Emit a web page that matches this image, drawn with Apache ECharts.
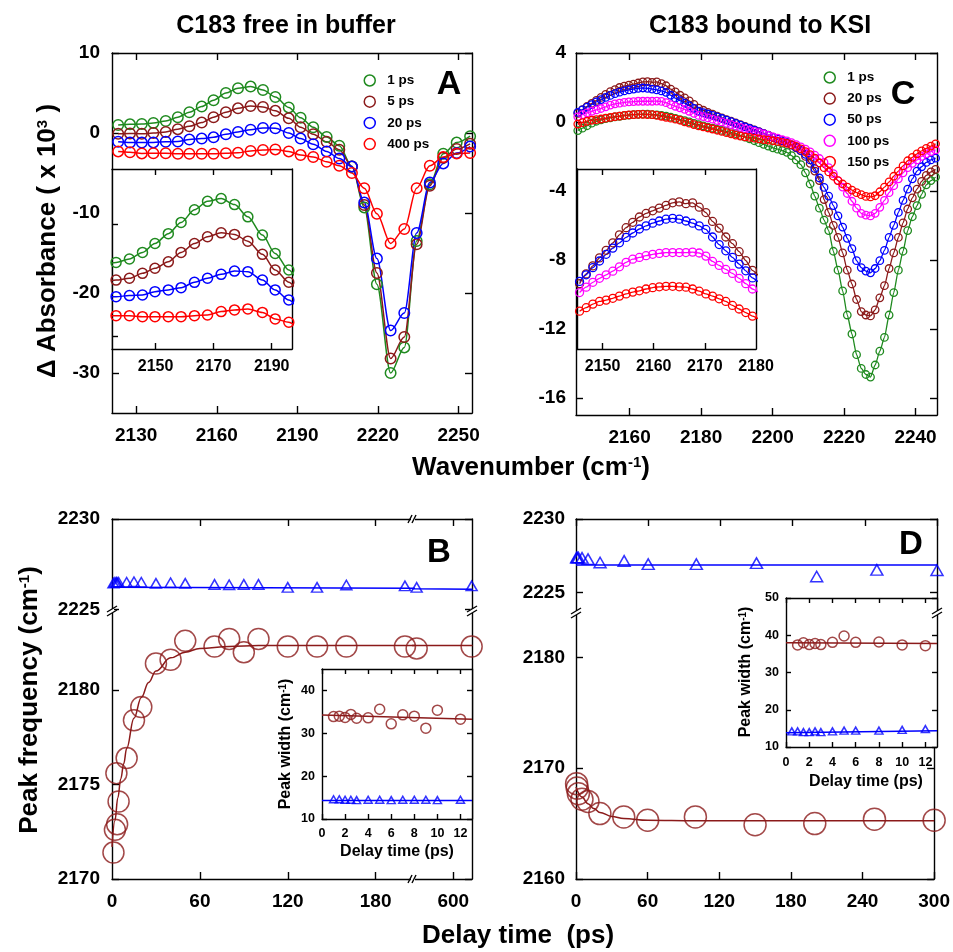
<!DOCTYPE html>
<html><head><meta charset="utf-8">
<script src="https://cdn.jsdelivr.net/npm/echarts@6/dist/echarts.min.js"></script>
<style>html,body{margin:0;padding:0;background:#fff}#c{width:953px;height:952px}</style>
</head><body><div id="c"></div><script>
// ================= DATA =================
// Panel A : C183 free in buffer (wavenumber, cm-1 ; dAbs x 1e3)
const wnA = [2123.3,2127.7,2132.1,2136.4,2141.0,2145.5,2149.8,2154.4,2158.8,2163.4,2167.9,2172.6,2177.2,2181.8,2186.8,2191.2,2195.9,2200.9,2205.6,2210.3,2214.9,2219.6,2224.7,2229.8,2234.4,2239.3,2244.3,2249.3,2254.3];
const A_1ps   = [1.0,1.08,1.12,1.26,1.5,1.97,2.6,3.3,4.1,5.0,5.6,5.8,5.37,4.5,3.2,1.9,0.72,-0.5,-1.6,-4.2,-9.3,-18.9,-30.0,-26.8,-13.5,-6.4,-2.6,-1.2,-0.4];
const A_5ps   = [-0.1,-0.05,-0.1,0.0,0.13,0.48,0.84,1.3,1.97,2.6,3.08,3.36,3.25,2.77,1.83,0.72,-0.15,-1.1,-2.1,-4.2,-9.0,-17.5,-28.2,-25.5,-13.9,-6.6,-3.1,-2.0,-1.35];
const A_20ps  = [-1.1,-1.2,-1.2,-1.18,-1.1,-1.06,-0.82,-0.7,-0.54,-0.16,0.13,0.41,0.64,0.6,0.0,-0.7,-1.41,-2.3,-3.2,-4.2,-8.7,-15.7,-24.7,-22.5,-12.5,-6.2,-3.8,-2.5,-1.7];
const A_400ps = [-2.3,-2.4,-2.55,-2.53,-2.53,-2.6,-2.6,-2.6,-2.6,-2.53,-2.48,-2.24,-2.12,-2.05,-2.3,-2.76,-3.0,-3.6,-4.1,-5.0,-6.9,-10.1,-13.8,-12.0,-6.9,-4.1,-3.0,-2.55,-2.5];

// Panel C : C183 bound to KSI
const wnC = [2145.5,2146.8,2148.1,2149.4,2150.7,2152.0,2153.3,2154.6,2155.9,2157.2,2158.5,2159.8,2161.1,2162.4,2163.7,2165.0,2166.3,2167.6,2168.9,2170.2,2171.5,2172.8,2174.1,2175.4,2176.7,2178.0,2179.3,2180.6,2181.9,2183.2,2184.5,2185.8,2187.1,2188.4,2189.7,2191.0,2192.3,2193.6,2194.9,2196.2,2197.5,2198.8,2200.1,2201.4,2202.7,2204.0,2205.3,2206.6,2207.9,2209.2,2210.5,2211.8,2213.1,2214.4,2215.7,2217.0,2218.3,2219.6,2220.9,2222.2,2223.5,2224.8,2226.1,2227.4,2228.7,2230.0,2231.3,2232.6,2233.9,2235.2,2236.5,2237.8,2239.1,2240.4,2241.7,2243.0,2244.3,2245.6];
const C_1ps = [-0.50,-0.36,-0.22,-0.07,0.04,0.12,0.19,0.24,0.29,0.33,0.37,0.40,0.42,0.44,0.45,0.45,0.43,0.41,0.38,0.34,0.28,0.21,0.14,0.08,0.00,-0.08,-0.16,-0.23,-0.30,-0.36,-0.43,-0.49,-0.55,-0.61,-0.68,-0.78,-0.88,-0.98,-1.09,-1.20,-1.30,-1.40,-1.50,-1.58,-1.66,-1.76,-1.95,-2.20,-2.48,-2.95,-3.60,-4.30,-5.00,-5.70,-6.30,-7.50,-8.60,-9.80,-11.20,-12.30,-13.50,-14.30,-14.65,-14.80,-14.10,-13.30,-12.50,-11.20,-9.90,-8.60,-7.50,-6.30,-5.50,-4.85,-4.20,-3.65,-3.40,-3.20];
const C_20ps = [0.50,0.72,0.90,1.08,1.25,1.42,1.60,1.76,1.88,2.00,2.08,2.14,2.20,2.26,2.32,2.34,2.30,2.32,2.22,2.10,1.90,1.75,1.55,1.40,1.22,1.02,0.80,0.68,0.56,0.45,0.34,0.24,0.14,0.04,-0.06,-0.16,-0.26,-0.36,-0.46,-0.56,-0.66,-0.76,-0.88,-0.98,-1.08,-1.20,-1.35,-1.50,-1.68,-2.00,-2.40,-2.85,-3.40,-4.50,-5.25,-6.00,-6.70,-7.60,-8.60,-9.40,-10.30,-11.00,-11.20,-11.25,-10.90,-10.20,-9.50,-8.50,-7.60,-6.70,-5.85,-5.05,-4.40,-3.90,-3.45,-3.10,-2.90,-2.75];
const C_50ps = [0.55,0.70,0.86,1.01,1.16,1.30,1.42,1.54,1.64,1.73,1.80,1.86,1.91,1.95,1.97,1.95,1.91,1.86,1.80,1.72,1.55,1.38,1.24,1.09,0.94,0.79,0.63,0.54,0.46,0.38,0.29,0.20,0.11,0.02,-0.08,-0.18,-0.28,-0.38,-0.48,-0.58,-0.68,-0.78,-0.90,-1.00,-1.10,-1.20,-1.33,-1.48,-1.65,-1.88,-2.20,-2.70,-3.25,-3.80,-4.30,-4.85,-5.45,-6.10,-6.75,-7.35,-8.05,-8.45,-8.65,-8.75,-8.50,-8.05,-7.45,-6.70,-6.00,-5.25,-4.55,-3.90,-3.30,-2.85,-2.60,-2.35,-2.20,-2.10];
const C_100ps = [0.30,0.42,0.53,0.62,0.70,0.78,0.88,0.98,1.05,1.09,1.13,1.16,1.18,1.20,1.20,1.20,1.20,1.21,1.19,1.12,1.00,0.91,0.82,0.73,0.62,0.50,0.38,0.31,0.24,0.16,0.08,0.00,-0.08,-0.16,-0.24,-0.32,-0.40,-0.47,-0.55,-0.62,-0.70,-0.78,-0.86,-0.94,-1.02,-1.10,-1.20,-1.32,-1.45,-1.58,-1.74,-1.92,-2.12,-2.35,-2.65,-3.00,-3.40,-3.78,-4.15,-4.60,-5.00,-5.30,-5.40,-5.45,-5.30,-4.95,-4.55,-4.10,-3.70,-3.30,-2.95,-2.65,-2.40,-2.20,-2.00,-1.85,-1.72,-1.62];
const C_150ps = [-0.12,-0.04,0.04,0.10,0.13,0.17,0.22,0.27,0.31,0.34,0.38,0.41,0.43,0.44,0.44,0.43,0.42,0.38,0.33,0.27,0.22,0.16,0.10,0.01,-0.07,-0.15,-0.23,-0.29,-0.35,-0.41,-0.48,-0.55,-0.62,-0.69,-0.76,-0.82,-0.86,-0.90,-0.94,-0.98,-1.02,-1.06,-1.09,-1.13,-1.18,-1.24,-1.32,-1.42,-1.56,-1.72,-1.90,-2.10,-2.38,-2.65,-2.90,-3.15,-3.40,-3.60,-3.78,-3.95,-4.10,-4.22,-4.32,-4.35,-4.28,-4.05,-3.78,-3.48,-3.15,-2.85,-2.55,-2.25,-2.05,-1.85,-1.68,-1.53,-1.40,-1.27];

// Panel B : peak frequency vs delay time (free)
const tB      = [1,2,3,3.5,4.5,10,15,20,30,40,50,70,80,90,100,120,140,160,200,400,700];
const pkLowB  = [2171.4,2172.6,2175.6,2172.9,2174.1,2176.4,2178.4,2179.1,2181.4,2181.6,2182.6,2182.3,2182.7,2182.0,2182.7,2182.3,2182.3,2182.3,2182.3,2182.2,2182.3];
const pkHighB = [2226.45,2226.5,2226.5,2226.48,2226.5,2226.5,2226.53,2226.5,2226.44,2226.47,2226.44,2226.38,2226.36,2226.38,2226.38,2226.22,2226.22,2226.35,2226.3,2226.22,2226.3];
const fitLowBt  = [0,2,4,6,8,10,15,20,25,30,40,50,60,80,100,205,380,705];
const fitLowBf  = [2171.7,2173.1,2174.3,2175.3,2176.1,2176.9,2178.5,2179.6,2180.4,2181.0,2181.7,2182.0,2182.2,2182.3,2182.35,2182.35,2182.35,2182.35];
const fitHighBt = [0,205,380,705];
const fitHighBf = [2226.22,2226.17,2226.14,2226.11];
// Panel B inset : peak width
const tBi      = [1,1.5,2,2.5,3,4,5,6,7,8,9,10,12];
const wLowBi   = [33.9,34.0,33.7,34.4,33.5,33.6,35.6,32.2,34.3,34.0,31.2,35.4,33.3];
const wHighBi  = [14.6,14.6,14.5,14.5,14.4,14.5,14.5,14.4,14.5,14.5,14.5,14.4,14.5];
const fitBiT   = [0,13];
const fitLowBi = [34.25,33.3];
const fitHighBi= [14.3,14.3];

// Panel D : peak frequency vs delay time (bound)
const tD      = [0.5,1,2,5,10,20,40,60,100,150,200,250,300];
const pkLowD  = [2168.6,2168.2,2167.7,2167.2,2167.0,2165.9,2165.6,2165.3,2165.6,2164.9,2165.0,2165.4,2165.3];
const pkHighD = [2227.38,2227.38,2227.38,2227.36,2227.27,2227.04,2227.15,2226.93,2226.93,2227.0,2226.09,2226.54,2226.52];
const fitLowDt = [0,5,10,15,20,30,40,60,100,300];
const fitLowDf = [2168.3,2167.4,2166.8,2166.35,2166.0,2165.65,2165.45,2165.3,2165.25,2165.25];
const fitHighDt = [0,300];
const fitHighDf = [2226.87,2226.87];
// Panel D inset
const tDiLow   = [1,1.5,2,2.5,3,4,5,6,8,10,12];
const wLowDi   = [37.4,38.0,37.5,37.8,37.5,38.1,39.8,38.1,38.2,37.4,37.2];
const tDiHigh  = [0.5,1,1.5,2,2.5,3,4,5,6,8,10,12];
const wHighDi  = [14.2,14.2,14.0,14.0,14.2,14.0,14.2,14.4,14.4,14.4,14.6,14.8];
const fitDiT   = [0,13];
const fitLowDi = [38.0,37.8];
const fitHighDi= [13.8,14.35];

// Tick labels
const tkA_x = [2130,2160,2190,2220,2250], tkA_y = [-30,-20,-10,0,10];
const tkAi_x = [2150,2170,2190], tkAi_y = [-4,4];
const tkC_x = [2160,2180,2200,2220,2240], tkC_y = [-16,-12,-8,-4,0,4];
const tkCi_x = [2150,2160,2170], lbCi_x = [2150,2160,2170,2180];
const tkB_x = [0,60,120,180], tkB_xR = [600], tkB_yHi = [2225,2230], tkB_yLo = [2170,2175,2180];
const tkD_x = [0,60,120,180,240,300], tkD_yHi = [2225,2230], tkD_yLo = [2160,2170,2180];
const tkIn_x = [0,2,4,6,8,10,12], tkBi_y = [10,20,30,40], tkDi_y = [10,20,30,40,50];

// ================= BUILD =================
const F = '"Liberation Sans", Arial, Helvetica, sans-serif';
const GREEN='#1f8a1f', BROWN='#8b1a1a', BLUE='#0000ff', RED='#ff0000', MAG='#ff00ff';
const grids=[], xAxes=[], yAxes=[], series=[], legends=[], graphics=[];

function G(l,t,w,h,inset){
  grids.push({left:l, top:t, width:w, height:h, containLabel:false, show:!!inset,
    backgroundColor:'#ffffff', borderColor:'rgba(0,0,0,0)', borderWidth:0, z: inset?5:0});
  return grids.length-1;
}
function AX(list, gi, pos, min, max, o){
  o = o||{};
  list.push({
    type:'value', gridIndex:gi, position:pos, min:min, max:max, z:o.z||0,
    axisLine:{show:true, onZero:false, lineStyle:{color:'#000', width:1.4}},
    axisTick: o.ticks ? {show:true, inside:true, length:o.tl||7, customValues:o.ticks, lineStyle:{color:'#000', width:1.4}} : {show:false},
    axisLabel: o.labels ? {show:true, customValues:o.labels, margin:o.lm||11, color:'#000', fontFamily:F, fontWeight:'bold', fontSize:o.fs||19,
      formatter: v => String(Math.round(v*1000)/1000)} : {show:false},
    splitLine:{show:false}, axisPointer:{show:false}
  });
  return list.length-1;
}
function pairs(xs, ys){ return xs.map((x,i)=>[x, ys[i]]); }
function lineS(xi, yi, xs, ys, color, o){
  o=o||{};
  series.push({type:'line', name:o.name, xAxisIndex:xi, yAxisIndex:yi, data:pairs(xs,ys),
    smooth: o.smooth===undefined?0.3:o.smooth, smoothMonotone:'x',
    symbol: o.noSym?'none':'circle', symbolSize:o.size||10, showSymbol:!o.noSym,
    lineStyle:{color:color, width:o.lw||1.5},
    itemStyle:{color:'rgba(0,0,0,0)', borderColor:color, borderWidth:o.bw||1.5},
    z:o.z||2, silent:true, clip:true, animation:false, emphasis:{disabled:true}});
}
function scatS(xi, yi, xs, ys, color, o){
  o=o||{};
  series.push({type:'scatter', xAxisIndex:xi, yAxisIndex:yi, data:pairs(xs,ys),
    symbol:o.symbol||'circle', symbolSize:o.size||10,
    itemStyle:{color:'rgba(0,0,0,0)', borderColor:color, borderWidth:o.bw||1.5},
    z:o.z||3, silent:true, clip:true, animation:false, emphasis:{disabled:true}});
}
function legendItem(name, color){ return {name:name, itemStyle:{color:'rgba(0,0,0,0)', borderColor:color, borderWidth:1.5}}; }

// ---- Panel A main ----
let g = G(112,53,360,360);
let xa = AX(xAxes,g,'bottom',2121,2255,{ticks:tkA_x, labels:tkA_x, lm:13});
AX(xAxes,g,'top',2121,2255,{ticks:tkA_x});
let ya = AX(yAxes,g,'left',-35,10,{ticks:tkA_y, labels:tkA_y, lm:12});
AX(yAxes,g,'right',-35,10,{ticks:tkA_y});
const Aset = [['1 ps',A_1ps,GREEN],['5 ps',A_5ps,BROWN],['20 ps',A_20ps,BLUE],['400 ps',A_400ps,RED]];
Aset.forEach(s => lineS(xa, ya, wnA, s[1], s[2], {name:'A|'+s[0], size:10.5}));
// ---- Panel A inset ----
g = G(112,169,180,180,true);
xa = AX(xAxes,g,'bottom',2135,2197,{ticks:tkAi_x, labels:tkAi_x, fs:16, lm:10, tl:6, z:6});
AX(xAxes,g,'top',2135,2197,{ticks:tkAi_x, tl:6, z:6});
ya = AX(yAxes,g,'left',-4.9,7.9,{ticks:tkAi_y, tl:6, z:6});
AX(yAxes,g,'right',-4.9,7.9,{z:6});
Aset.forEach(s => lineS(xa, ya, wnA, s[1], s[2], {size:10, z:7}));

// ---- Panel C main ----
g = G(576,53,361,362);
xa = AX(xAxes,g,'bottom',2145,2246,{ticks:tkC_x, labels:tkC_x, lm:13});
AX(xAxes,g,'top',2145,2246,{ticks:tkC_x});
ya = AX(yAxes,g,'left',-17,4,{ticks:tkC_y, labels:tkC_y, lm:10});
AX(yAxes,g,'right',-17,4,{ticks:tkC_y});
const Cset = [['1 ps',C_1ps,GREEN],['20 ps',C_20ps,BROWN],['50 ps',C_50ps,BLUE],['100 ps',C_100ps,MAG],['150 ps',C_150ps,RED]];
Cset.forEach(s => lineS(xa, ya, wnC, s[1], s[2], {name:'C|'+s[0], size:7.5, bw:1.3, lw:1.3, smooth:0.2}));
// ---- Panel C inset ----
g = G(577,169,179,180,true);
xa = AX(xAxes,g,'bottom',2145,2180,{ticks:tkCi_x, labels:lbCi_x, fs:16, lm:10, tl:6, z:6});
AX(xAxes,g,'top',2145,2180,{ticks:tkCi_x, tl:6, z:6});
ya = AX(yAxes,g,'left',-0.97,3.08,{z:6});
AX(yAxes,g,'right',-0.97,3.08,{z:6});
Cset.slice(1).forEach(s => lineS(xa, ya, wnC, s[1], s[2], {size:8, bw:1.3, lw:1.3, smooth:0.2, z:7}));

// ---- Panel B (broken axes) ----
const gBUL = G(112,519,301,92), gBUR = G(413,519,59,92), gBLL = G(112,611,301,268), gBLR = G(413,611,59,268);
let xUL = AX(xAxes,gBUL,'top',0,205.5,{ticks:[60,120,180]});
let yUL = AX(yAxes,gBUL,'left',2224.91,2230,{ticks:tkB_yHi, labels:tkB_yHi, lm:12});
let xUR = AX(xAxes,gBUR,'top',380,702,{ticks:tkB_xR});
let yUR = AX(yAxes,gBUR,'right',2224.91,2230,{ticks:tkB_yHi});
let xLL = AX(xAxes,gBLL,'bottom',0,205.5,{ticks:[60,120,180], labels:tkB_x, lm:13});
let yLL = AX(yAxes,gBLL,'left',2170,2184.18,{ticks:tkB_yLo, labels:tkB_yLo, lm:12});
let xLR = AX(xAxes,gBLR,'bottom',380,702,{ticks:tkB_xR, labels:tkB_xR, lm:13});
let yLR = AX(yAxes,gBLR,'right',2170,2184.18,{ticks:tkB_yLo});
[[xUL,yUL],[xUR,yUR]].forEach(p=>{
  lineS(p[0],p[1],fitHighBt,fitHighBf,BLUE,{noSym:true, smooth:false, lw:1.5});
  scatS(p[0],p[1],tB,pkHighB,BLUE,{symbol:'triangle', size:[11,9.5], bw:1.5});
});
[[xLL,yLL],[xLR,yLR]].forEach(p=>{
  lineS(p[0],p[1],fitLowBt,fitLowBf,BROWN,{noSym:true, smooth:0.4, lw:1.5});
  scatS(p[0],p[1],tB,pkLowB,BROWN,{size:21, bw:1.5});
});
// B inset
g = G(322,669,150,150,true);
xa = AX(xAxes,g,'bottom',0,13,{ticks:tkIn_x, labels:tkIn_x, fs:12.5, lm:8, tl:5, z:6});
AX(xAxes,g,'top',0,13,{ticks:tkIn_x, tl:5, z:6});
ya = AX(yAxes,g,'left',10,45,{ticks:tkBi_y, labels:tkBi_y, fs:12.5, lm:7, tl:5, z:6});
AX(yAxes,g,'right',10,45,{ticks:tkBi_y, tl:5, z:6});
lineS(xa,ya,fitBiT,fitLowBi,BROWN,{noSym:true, smooth:false, z:7});
lineS(xa,ya,fitBiT,fitHighBi,BLUE,{noSym:true, smooth:false, z:7});
scatS(xa,ya,tBi,wLowBi,BROWN,{size:10, z:8});
scatS(xa,ya,tBi,wHighBi,BLUE,{symbol:'triangle', size:[8,7], z:8});

// ---- Panel D (broken y) ----
const gDU = G(576,519,361,94), gDL = G(576,613,361,266);
let xDU = AX(xAxes,gDU,'top',0,300,{ticks:tkD_x});
let yDU = AX(yAxes,gDU,'left',2223.61,2230,{ticks:tkD_yHi, labels:tkD_yHi, lm:11});
AX(yAxes,gDU,'right',2223.61,2230,{ticks:tkD_yHi});
let xDL = AX(xAxes,gDL,'bottom',0,300,{ticks:tkD_x, labels:tkD_x, lm:13});
let yDL = AX(yAxes,gDL,'left',2160,2184,{ticks:tkD_yLo, labels:tkD_yLo, lm:11});
AX(yAxes,gDL,'right',2160,2184,{ticks:tkD_yLo});
lineS(xDU,yDU,fitHighDt,fitHighDf,BLUE,{noSym:true, smooth:false});
scatS(xDU,yDU,tD,pkHighD,BLUE,{symbol:'triangle', size:[12,10.5]});
lineS(xDL,yDL,fitLowDt,fitLowDf,BROWN,{noSym:true, smooth:0.4});
scatS(xDL,yDL,tD,pkLowD,BROWN,{size:22});
// D inset
g = G(786,598,151,149,true);
xa = AX(xAxes,g,'bottom',0,13,{ticks:tkIn_x, labels:tkIn_x, fs:12.5, lm:9, tl:5, z:6});
AX(xAxes,g,'top',0,13,{ticks:tkIn_x, tl:5, z:6});
ya = AX(yAxes,g,'left',10,50,{ticks:tkDi_y, labels:tkDi_y, fs:12.5, lm:7, tl:5, z:6});
AX(yAxes,g,'right',10,50,{ticks:tkDi_y, tl:5, z:6});
lineS(xa,ya,fitDiT,fitLowDi,BROWN,{noSym:true, smooth:false, z:7});
lineS(xa,ya,fitDiT,fitHighDi,BLUE,{noSym:true, smooth:false, z:7});
scatS(xa,ya,tDiLow,wLowDi,BROWN,{size:10, z:8});
scatS(xa,ya,tDiHigh,wHighDi,BLUE,{symbol:'triangle', size:[8,7], z:8});

// ---- Legends ----
const legBase = {orient:'vertical', itemWidth:11, itemHeight:11, icon:'circle', selectedMode:false,
  formatter: n => n.split('|')[1],
  textStyle:{fontFamily:F, fontWeight:'bold', fontSize:13.5, color:'#000', lineHeight:11, padding:[0,0,0,7]}};
legends.push(Object.assign({}, legBase, {left:358.5, top:68.5, itemGap:7.2, data:Aset.map(s=>legendItem('A|'+s[0], s[2]))}));
legends.push(Object.assign({}, legBase, {left:818.5, top:65.5, itemGap:7.1, data:Cset.map(s=>legendItem('C|'+s[0], s[2]))}));

// ---- Texts ----
function T(x,y,text,size,o){
  o=o||{};
  const st = {text:text, fill:'#000', fontSize:size, fontWeight:'bold', fontFamily:F, align:'center', verticalAlign:'middle'};
  if (o.rich) st.rich = o.rich;
  graphics.push({type:'text', x:x, y:y, rotation:o.rot||0, z:100, silent:true, style:st});
}
const sup = s => ({s:{fontSize:s, fontWeight:'bold', fontFamily:F, fill:'#000', verticalAlign:'top'}});
T(286,26,'C183 free in buffer',25);
T(760,26,'C183 bound to KSI',25);
T(449,85,'A',34); T(903,95,'C',34); T(439,553,'B',33); T(911,545,'D',33);
T(531,468,'Wavenumber (cm{s|-1})',26,{rich:sup(15)});
T(518,936,'Delay time  (ps)',26);
T(48,241,'\u0394 Absorbance ( x 10{s|3} )',26,{rot:Math.PI/2, rich:sup(15)});
T(30,700,'Peak frequency (cm{s|-1})',26,{rot:Math.PI/2, rich:sup(15)});
T(397,852,'Delay time (ps)',16);
T(866,782,'Delay time (ps)',16);
T(286,744,'Peak width (cm{s|-1})',16,{rot:Math.PI/2, rich:sup(10)});
T(746,672,'Peak width (cm{s|-1})',16,{rot:Math.PI/2, rich:sup(10)});

// ---- Axis break marks ----
function L(x1,y1,x2,y2){ graphics.push({type:'line', z:101, silent:true, shape:{x1,y1,x2,y2}, style:{stroke:'#000', lineWidth:1.4}}); }
function W(x,y,w,h){ graphics.push({type:'rect', z:100, silent:true, shape:{x,y,width:w,height:h}, style:{fill:'#fff'}}); }
function brkV(x,y){ W(x-2,y-2,4,4); L(x-5,y+1,x+5,y-5); L(x-5,y+5,x+5,y-1); }
function brkH(x,y){ W(x-2,y-2,4,4); L(x-5,y+4,x-1,y-4); L(x-1,y+4,x+3,y-4); }
brkV(112,611); brkV(472,611); brkH(413,519); brkH(413,879);
brkV(576,613); brkV(937,613);

const chart = echarts.init(document.getElementById('c'), null, {renderer:'canvas'});
chart.setOption({animation:false, backgroundColor:'#fff', grid:grids, xAxis:xAxes, yAxis:yAxes, series:series, legend:legends, graphic:{elements:graphics}});
</script></body></html>
